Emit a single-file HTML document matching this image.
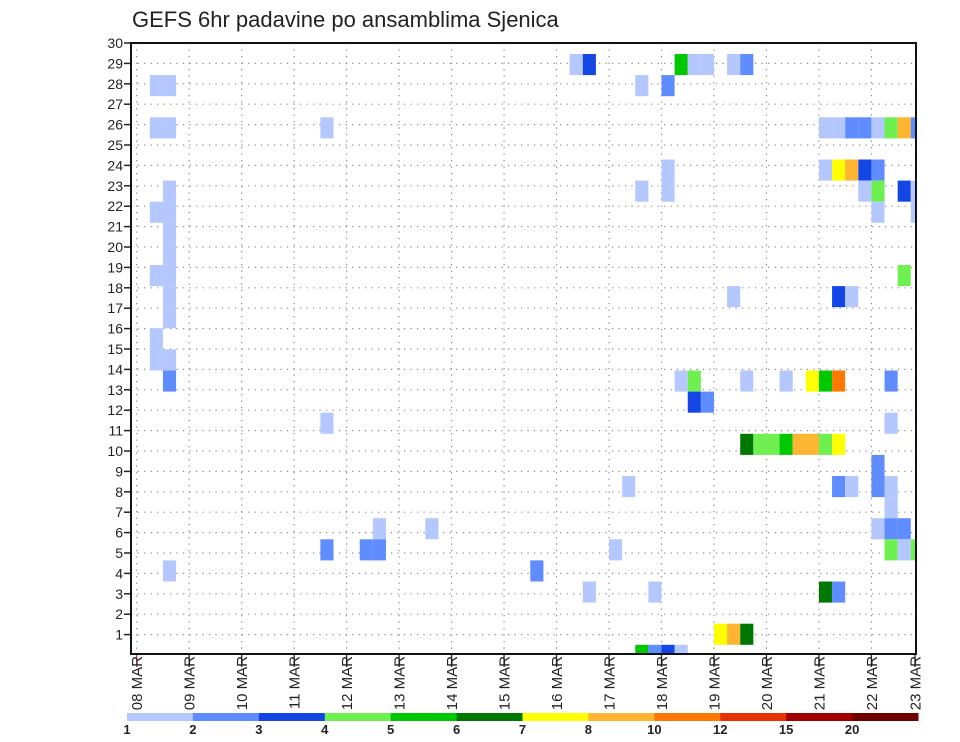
<!DOCTYPE html>
<html><head><meta charset="utf-8"><style>
html,body{margin:0;padding:0;background:#fff;}
svg{display:block;font-family:"Liberation Sans",sans-serif;}
</style></head><body>
<svg id="chart" width="960" height="742" viewBox="0 0 960 742">
<text x="132" y="27" font-size="22" fill="#222">GEFS 6hr padavine po ansamblima Sjenica</text>
<g id="grid"></g><g id="cells"></g><g id="axes"></g><g id="legend"></g>
</svg>
<script>
const dayLabels = ["08","09","10","11","12","13","14","15","16","17","18","19","20","21","22","23"];
const yTicks = [1,2,3,4,5,6,7,8,9,10,11,12,13,14,15,16,17,18,19,20,21,22,23,24,25,26,27,28,29,30];
const legendLabels = ["1","2","3","4","5","6","7","8","10","12","15","20"];
const palette = ["#b4c8ff","#5f8cff","#1446e6","#6ef050","#00c800","#007800","#ffff00","#ffb432","#ff7800","#e63200","#a00000","#6e0000"];
// cells: member index (0 bottom .. 28 top), 6h step index, colour class (1-based)
const cellMember = [
 28,28,28,28,28,28,28,
 27,27,27,27,
 25,25,25,25,25,25,25,25,25,25,25,
 23,23,23,23,23,23,
 22,22,22,22,22,22,22,
 21,21,21,21,
 20, 19, 18,18,18, 17,17,17,17, 16,
 15, 14,14,
 13,13,13,13,13,13,13,13,13,
 12,12,
 11,11,
 10,10,10,10,10,10,10,10,
 9,
 8,8,8,8,8,
 7,
 6,6,6,6,6,
 5,5,5,5,5,5,5,
 4,4,
 3,3,3,3,
 1,1,1,
 0,0,0,0];
const cellStep = [
 33,34,41,42,43,45,46,
 1,2,38,40,
 1,2,14,52,53,54,55,56,57,58,59,
 40,52,53,54,55,56,
 2,38,40,55,56,58,59,
 1,2,56,59,
 2, 2, 1,2,58, 2,53,54,45, 2,
 1, 1,2,
 2,41,42,46,49,51,52,53,57,
 42,43,
 57,14,
 46,47,48,49,50,51,52,53,
 56,
 56,37,53,54,57,
 57,
 18,22,56,57,58,
 14,17,18,36,57,58,59,
 2,30,
 34,39,52,53,
 44,45,46,
 38,39,40,41];
const cellClass = [
 1,3,5,1,1,1,2,
 1,1,1,2,
 1,1,1,1,1,2,2,1,4,8,2,
 1,1,7,8,3,2,
 1,1,1,1,4,3,1,
 1,1,1,1,
 1, 1, 1,1,4, 1,3,1,1, 1,
 1, 1,1,
 2,1,4,1,1,7,5,9,2,
 3,2,
 1,1,
 6,4,4,5,8,8,4,7,
 2,
 2,1,2,1,1,
 1,
 1,1,1,2,2,
 2,2,2,1,4,1,4,
 1,2,
 1,1,6,2,
 7,8,6,
 5,2,3,1];

const NS="http://www.w3.org/2000/svg";
const L=131,R=916,T=43,B=654;
const X0=136.7, DW=13.12;
function xs(k){return X0+k*DW;}
function yAxis(v){return 655-v*(612/30);}
function cellTop(m){return 54+21.1*(28-m);}
function mk(tag,attrs,parent){const e=document.createElementNS(NS,tag);for(const a in attrs)e.setAttribute(a,attrs[a]);parent.appendChild(e);return e;}
const grid=document.getElementById('grid'),cells=document.getElementById('cells'),axes=document.getElementById('axes'),legend=document.getElementById('legend');

yTicks.forEach(v=>{
  const y=yAxis(v);
  const gl=mk('line',{x1:L,x2:R,y1:y,y2:y,stroke:'#8a8a8a','stroke-width':1.2,'stroke-dasharray':'1.2 5.3'},grid);
  
  
  const tk=mk('line',{x1:124,x2:L,y1:y,y2:y,stroke:'#222','stroke-width':1.5},axes);
  
  
  const t=mk('text',{x:123,y:y+5,'text-anchor':'end','font-size':14,fill:'#222'},axes);
  t.textContent=v;
  
  
});
dayLabels.forEach((d,i)=>{
  const x=xs(i*4);
  if(x<=R+1){
    const gl=mk('line',{x1:x,x2:x,y1:T,y2:B,stroke:'#8a8a8a','stroke-width':1.2,'stroke-dasharray':'1.2 5.3'},grid);
    
    
  }
  const xx=Math.min(x,915);
  const tk=mk('line',{x1:xx,x2:xx,y1:B,y2:667,stroke:i===0?'#d04040':'#222','stroke-width':1.3},axes);
  
  
  const t=mk('text',{transform:'translate('+(xx+5.5)+',656) rotate(-90)','text-anchor':'end','font-size':15,fill:'#222'},axes);
  t.textContent=d+' MAR';
  
  
});
for(let i=0;i<cellMember.length;i++){
  const m=cellMember[i],k=cellStep[i],c=cellClass[i];
  const x=xs(k),w=Math.min(DW,R-x);
  let y=cellTop(m),h=21.1;
  if(y+h>B)h=B-y;
  const r=mk('rect',{x:x.toFixed(2),y:y.toFixed(2),width:w.toFixed(2),height:h.toFixed(2),fill:palette[c-1]},cells);
  
  
}
const frame=mk('rect',{x:L,y:T,width:R-L,height:B-T,fill:'none',stroke:'#111','stroke-width':2},axes);


const segW=(918-127)/palette.length;
palette.forEach((col,i)=>{
  const r=mk('rect',{x:127+i*segW,y:713,width:segW+0.5,height:8,fill:col},legend);
  
  
  const t=mk('text',{x:127+i*segW,y:734,'text-anchor':'middle','font-size':13,'font-weight':'bold',fill:'#222'},legend);
  t.textContent=legendLabels[i];
  
  
});
</script>
</body></html>
